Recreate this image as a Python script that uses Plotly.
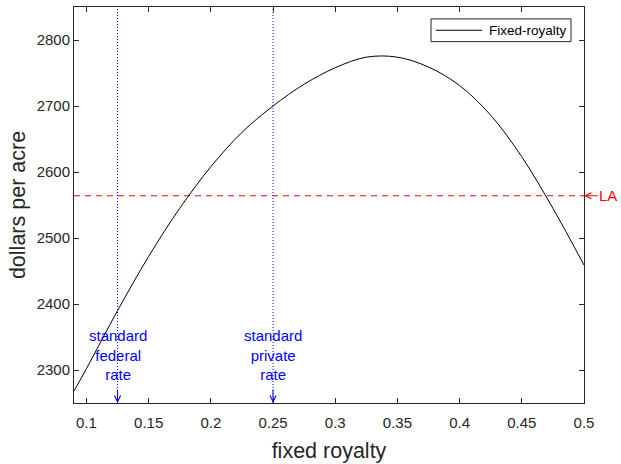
import plotly.graph_objects as go

# Fixed-royalty bid curve (dollars per acre) against the royalty rate
royalty = [0.09, 0.10, 0.125, 0.15, 0.175, 0.20, 0.225, 0.25, 0.275, 0.30,
           0.325, 0.35, 0.375, 0.40, 0.425, 0.45, 0.475, 0.50]
dollars = [2268, 2302, 2390, 2472, 2545, 2608, 2660, 2700, 2733, 2758,
           2774, 2774, 2759, 2731, 2686, 2623, 2545, 2459]
series_name = "Fixed-royalty"

# Reference royalty rates and the LA benchmark level
federal_rate = 0.125
private_rate = 0.25
la_level = 2564

x_range = [0.09, 0.5]
y_range = [2250, 2850]

x_ticks = [0.1, 0.15, 0.2, 0.25, 0.3, 0.35, 0.4, 0.45, 0.5]
x_tick_text = ["0.1", "0.15", "0.2", "0.25", "0.3", "0.35", "0.4", "0.45", "0.5"]
y_ticks = [2300, 2400, 2500, 2600, 2700, 2800]
y_tick_text = ["2300", "2400", "2500", "2600", "2700", "2800"]

AX = "#262626"
BLUE = "#0000ff"
RED = "#ff0000"
FONT = "Liberation Sans, Arial, sans-serif"

fig = go.Figure()

# Vertical dotted markers for the standard rates
for rate in (federal_rate, private_rate):
    fig.add_trace(go.Scatter(
        x=[rate, rate], y=y_range, mode="lines",
        line=dict(color=BLUE, width=1, dash="1px,2px"),
        showlegend=False, hoverinfo="skip"))

# Horizontal dashed LA level
fig.add_trace(go.Scatter(
    x=x_range, y=[la_level, la_level], mode="lines",
    line=dict(color=RED, width=1, dash="6px,5px"),
    showlegend=False, hoverinfo="skip"))

# Main curve
fig.add_trace(go.Scatter(
    x=royalty, y=dollars, mode="lines", name=series_name,
    line=dict(color="black", width=1, shape="spline", smoothing=1),
    showlegend=False))

annotations = []
label_y = 2323
for rate, label in ((federal_rate, "standard<br>federal<br>rate"),
                    (private_rate, "standard<br>private<br>rate")):
    annotations.append(dict(
        x=rate, y=label_y, xref="x", yref="y", text=label, showarrow=False,
        font=dict(family=FONT, size=15, color=BLUE), align="center"))
    annotations.append(dict(
        x=rate, y=y_range[0], xref="x", yref="y", text="", showarrow=True,
        ax=0, ay=-15, arrowhead=5, arrowsize=1.2, arrowwidth=1,
        arrowcolor=BLUE, standoff=0))

annotations.append(dict(
    x=x_range[1], y=la_level, xref="x", yref="y", text="LA", showarrow=True,
    ax=24, ay=0, arrowhead=5, arrowsize=1.2, arrowwidth=1, arrowcolor=RED,
    font=dict(family=FONT, size=15, color=RED), standoff=0))

# Compact boxed legend in the upper-right corner
leg_x0, leg_x1 = 0.700, 0.9745
leg_y0, leg_y1 = 0.9125, 0.970
leg_mid = (leg_y0 + leg_y1) / 2
shapes = [
    dict(type="rect", xref="paper", yref="paper", x0=leg_x0, x1=leg_x1,
         y0=leg_y0, y1=leg_y1, line=dict(color=AX, width=1),
         fillcolor="white", layer="above"),
    dict(type="line", xref="paper", yref="paper", x0=leg_x0 + 0.0098,
         x1=leg_x0 + 0.100, y0=leg_mid, y1=leg_mid,
         line=dict(color="black", width=1), layer="above"),
]
annotations.append(dict(
    x=leg_x0 + 0.1098, y=leg_mid, xref="paper", yref="paper",
    xanchor="left", yanchor="middle", text=series_name, showarrow=False,
    font=dict(family=FONT, size=13.5, color="black")))

fig.update_layout(
    width=621, height=464,
    margin=dict(l=74, r=37, t=6, b=58),
    paper_bgcolor="white", plot_bgcolor="white",
    font=dict(family=FONT, size=15, color=AX),
    annotations=annotations,
    shapes=shapes,
    showlegend=False,
    xaxis=dict(
        range=x_range, tickvals=x_ticks, ticktext=x_tick_text,
        showgrid=False, zeroline=False, showline=True, linecolor=AX,
        linewidth=1, mirror="ticks", ticks="inside", ticklen=5,
        tickcolor=AX, tickfont=dict(size=15, color=AX),
        ticklabelstandoff=6,
        title=dict(text="fixed royalty", font=dict(size=21.5, color=AX),
                   standoff=12)),
    yaxis=dict(
        range=y_range, tickvals=y_ticks, ticktext=y_tick_text,
        showgrid=False, zeroline=False, showline=True, linecolor=AX,
        linewidth=1, mirror="ticks", ticks="inside", ticklen=5,
        tickcolor=AX, tickfont=dict(size=15, color=AX),
        title=dict(text="dollars per acre", font=dict(size=21.5, color=AX),
                   standoff=5)),
)

fig.write_html("out.html")
